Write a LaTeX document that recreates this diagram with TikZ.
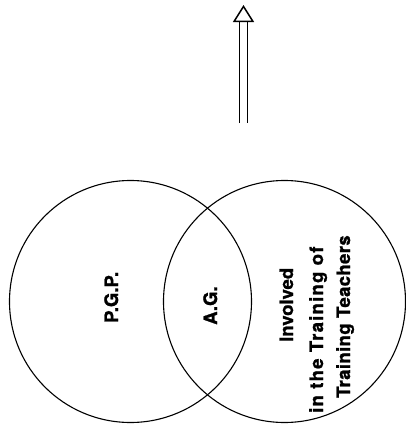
\documentclass[tikz,border=0pt]{standalone}
\usepackage{fontspec}
\usepackage{tikz}
\usetikzlibrary{arrows.meta,positioning}
\newfontfamily\helv[Extension=.otf, UprightFont=*-bold, FakeBold=1.2]{texgyreheros}
\newfontfamily\helvwide[Extension=.otf, UprightFont=*-bold, FakeBold=1.2, LetterSpace=6.7]{texgyreheros}
\newfontfamily\helvmid[Extension=.otf, UprightFont=*-bold, FakeBold=1.2, LetterSpace=2]{texgyreheros}

\begin{document}
\begin{tikzpicture}[
    x=1pt, y=-1pt,
    set/.style={circle, draw, line width=1.1pt, minimum size=242pt, inner sep=0pt},
    label/.style={rotate=90, font=\helv\fontsize{18.5}{18.5}\selectfont, inner sep=0pt, anchor=base west},
    uparrow/.style={double, double distance=7.5pt, line width=1.1pt,
        -{Triangle[open, length=17pt, width=21pt, line width=1.5pt]}}
]
\useasboundingbox (0,0) rectangle (406,424);

% Sets
\node[set] (pgp) at (130.5,301.5) {};
\node[set] (itt) at (284.5,301.5) {};

% Labels
\node[label] (pgptext) at (118,323) {P.G.P.};
\node[label] (agtext) at (217,325) {A.G.};
\node[label] (inv) at (293,342) {Involved};
\node[label, font=\helvwide\fontsize{18.5}{18.5}\selectfont] (trof) at (323,413) {in the Training of};
\node[label, font=\helvmid\fontsize{18.5}{18.5}\selectfont] (trte) at (350,398) {Training Teachers};

% Arrow
\coordinate (tail) at (243.5,123);
\coordinate (head) at (243.5,5);
\draw[uparrow] (tail) -- (head);

\end{tikzpicture}
\end{document}
